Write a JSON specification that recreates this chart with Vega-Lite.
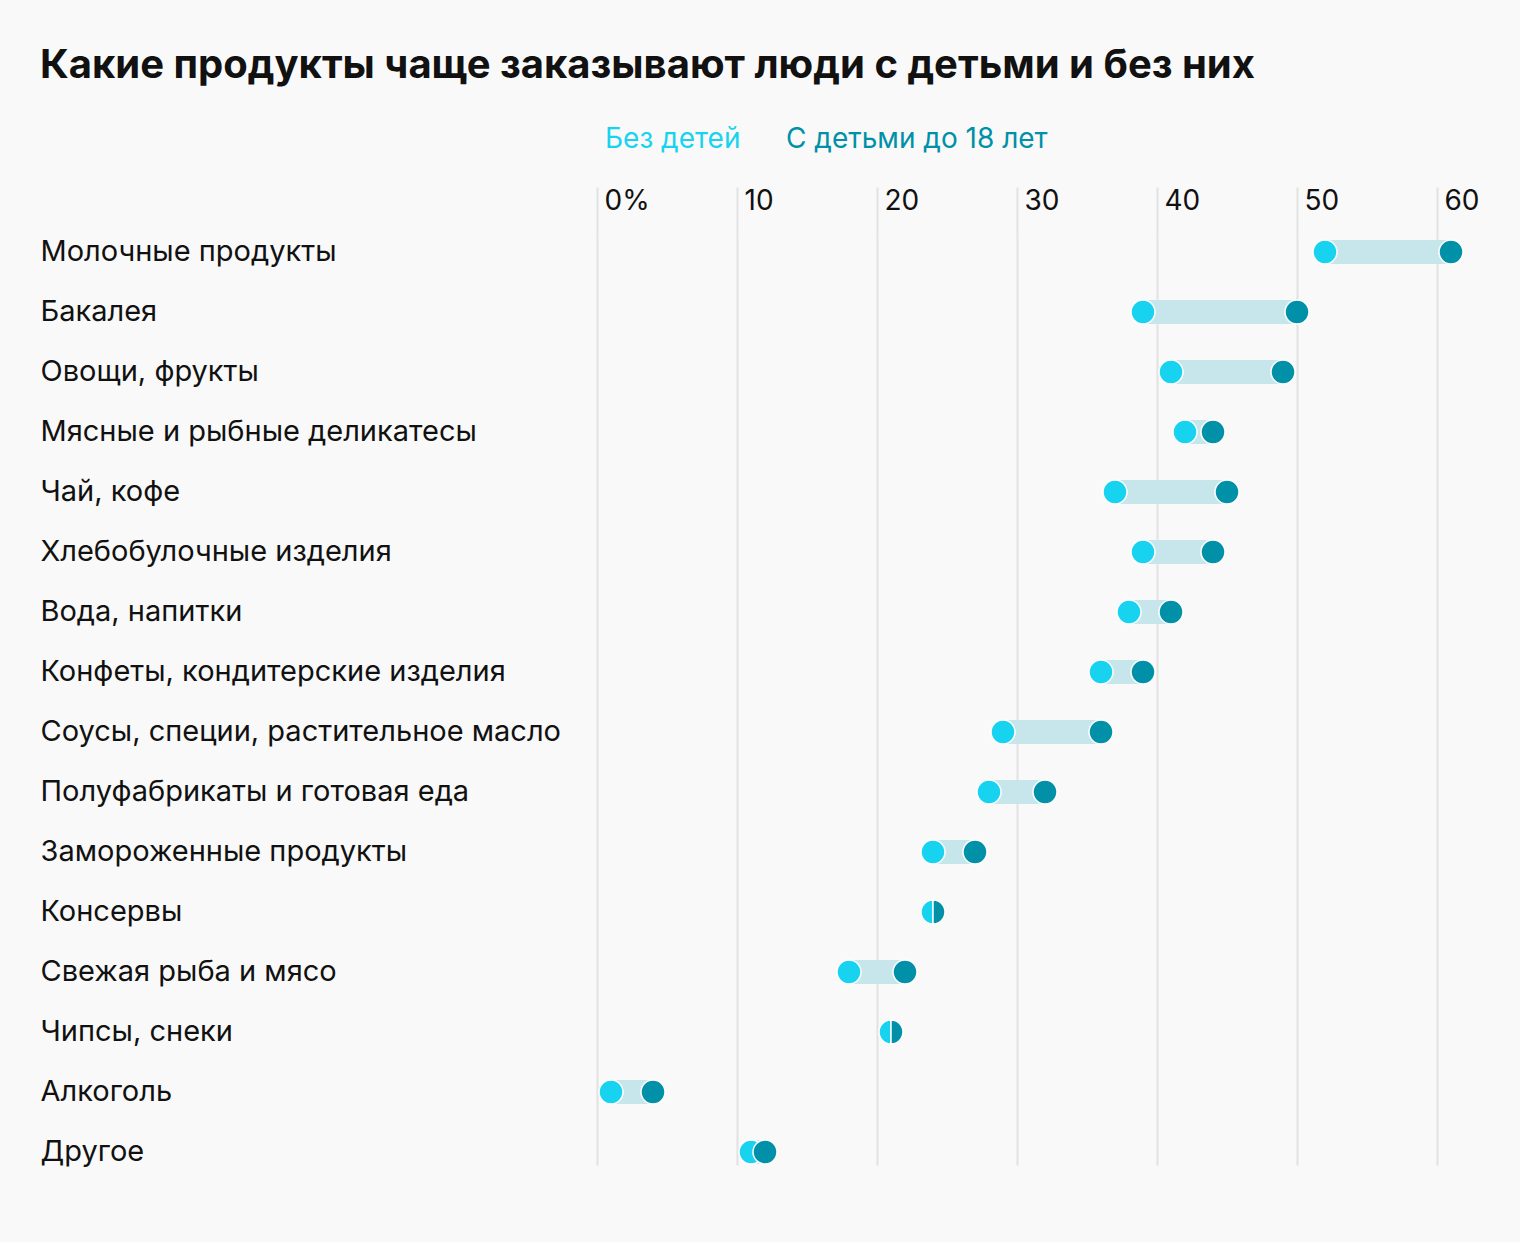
{
  "$schema": "https://vega.github.io/schema/vega-lite/v6.json",
  "width": 840,
  "height": 926,
  "autosize": {"type": "none"},
  "padding": {"left": 597, "top": 239, "right": 83, "bottom": 77},
  "background": "#f9f9f9",
  "config": {
    "view": {"stroke": null},
    "font": "Inter",
    "title": {"font": "Inter", "fontSize": 40, "fontWeight": 700, "color": "#111111", "anchor": "start", "frame": "bounds"}
  },
  "title": {"text": "Какие продукты чаще заказывают люди с детьми и без них", "offset": 40},
  "data": {
    "values": [
      {"category": "Молочные продукты", "no_kids": 52, "kids": 61},
      {"category": "Бакалея", "no_kids": 39, "kids": 50},
      {"category": "Овощи, фрукты", "no_kids": 41, "kids": 49},
      {"category": "Мясные и рыбные деликатесы", "no_kids": 42, "kids": 44},
      {"category": "Чай, кофе", "no_kids": 37, "kids": 45},
      {"category": "Хлебобулочные изделия", "no_kids": 39, "kids": 44},
      {"category": "Вода, напитки", "no_kids": 38, "kids": 41},
      {"category": "Конфеты, кондитерские изделия", "no_kids": 36, "kids": 39},
      {"category": "Соусы, специи, растительное масло", "no_kids": 29, "kids": 36},
      {"category": "Полуфабрикаты и готовая еда", "no_kids": 28, "kids": 32},
      {"category": "Замороженные продукты", "no_kids": 24, "kids": 27},
      {"category": "Консервы", "no_kids": 24, "kids": 24},
      {"category": "Свежая рыба и мясо", "no_kids": 18, "kids": 22},
      {"category": "Чипсы, снеки", "no_kids": 21, "kids": 21},
      {"category": "Алкоголь", "no_kids": 1, "kids": 4},
      {"category": "Другое", "no_kids": 11, "kids": 12}
    ]
  },
  "encoding": {
    "y": {
      "field": "category", "type": "nominal", "sort": null,
      "scale": {"paddingInner": 0.567, "paddingOuter": 0},
      "axis": {
        "title": null, "domain": false, "ticks": false, "grid": false,
        "labelAlign": "left", "labelPadding": 557, "labelFontSize": 29,
        "labelFont": "Inter", "labelColor": "#111111", "labelLimit": 0
      }
    }
  },
  "layer": [
    {
      "mark": {"type": "bar", "height": 24, "color": "#c6e6eb"},
      "encoding": {
        "x": {
          "field": "no_kids", "type": "quantitative",
          "scale": {"domain": [0, 60], "nice": false, "zero": false},
          "axis": {
            "orient": "top", "title": null, "values": [0, 10, 20, 30, 40, 50, 60],
            "domain": false, "grid": true, "gridColor": "#e2e2e2", "gridWidth": 2,
            "ticks": true, "tickSize": 52, "tickColor": "#e2e2e2", "tickWidth": 2,
            "labelAlign": "left", "labelOffset": 7, "labelPadding": -22,
            "labelBaseline": "alphabetic", "labelFontSize": 28, "labelFont": "Inter",
            "labelColor": "#111111",
            "labelExpr": "datum.value == 0 ? '0%' : datum.label"
          }
        },
        "x2": {"field": "kids"}
      }
    },
    {
      "transform": [
        {"filter": "datum.no_kids != datum.kids"},
        {"fold": ["no_kids", "kids"], "as": ["group", "value"]}
      ],
      "mark": {"type": "circle", "size": 576, "stroke": "white", "strokeWidth": 1.5, "opacity": 1},
      "encoding": {
        "x": {"field": "value", "type": "quantitative"},
        "color": {
          "field": "group", "type": "nominal",
          "scale": {"domain": ["no_kids", "kids"], "range": ["#18d3f0", "#0090a8"]},
          "legend": {
            "orient": "none", "legendX": -28, "legendY": -113, "direction": "horizontal",
            "title": null, "symbolSize": 0, "symbolStrokeWidth": 0, "symbolOpacity": 0,
            "labelOffset": 8, "columnPadding": 9, "labelFontSize": 28, "labelFont": "Inter",
            "labelExpr": "datum.value == 'no_kids' ? 'Без детей' : 'С детьми до 18 лет'",
            "labelLimit": 0,
            "labelColor": {"expr": "datum.value == 'no_kids' ? '#18d3f0' : '#0090a8'"}
          }
        }
      }
    },
    {
      "transform": [
        {"filter": "datum.no_kids == datum.kids"},
        {"fold": ["no_kids", "kids"], "as": ["group", "value"]}
      ],
      "mark": {"type": "point", "filled": true, "size": 576, "stroke": "white", "strokeWidth": 1.5, "opacity": 1},
      "encoding": {
        "x": {"field": "value", "type": "quantitative"},
        "color": {"field": "group", "type": "nominal"},
        "shape": {
          "field": "group", "type": "nominal",
          "scale": {"domain": ["no_kids", "kids"], "range": ["M0,-1A1,1,0,0,0,0,1Z", "M0,-1A1,1,0,0,1,0,1Z"]},
          "legend": null
        }
      }
    }
  ]
}
